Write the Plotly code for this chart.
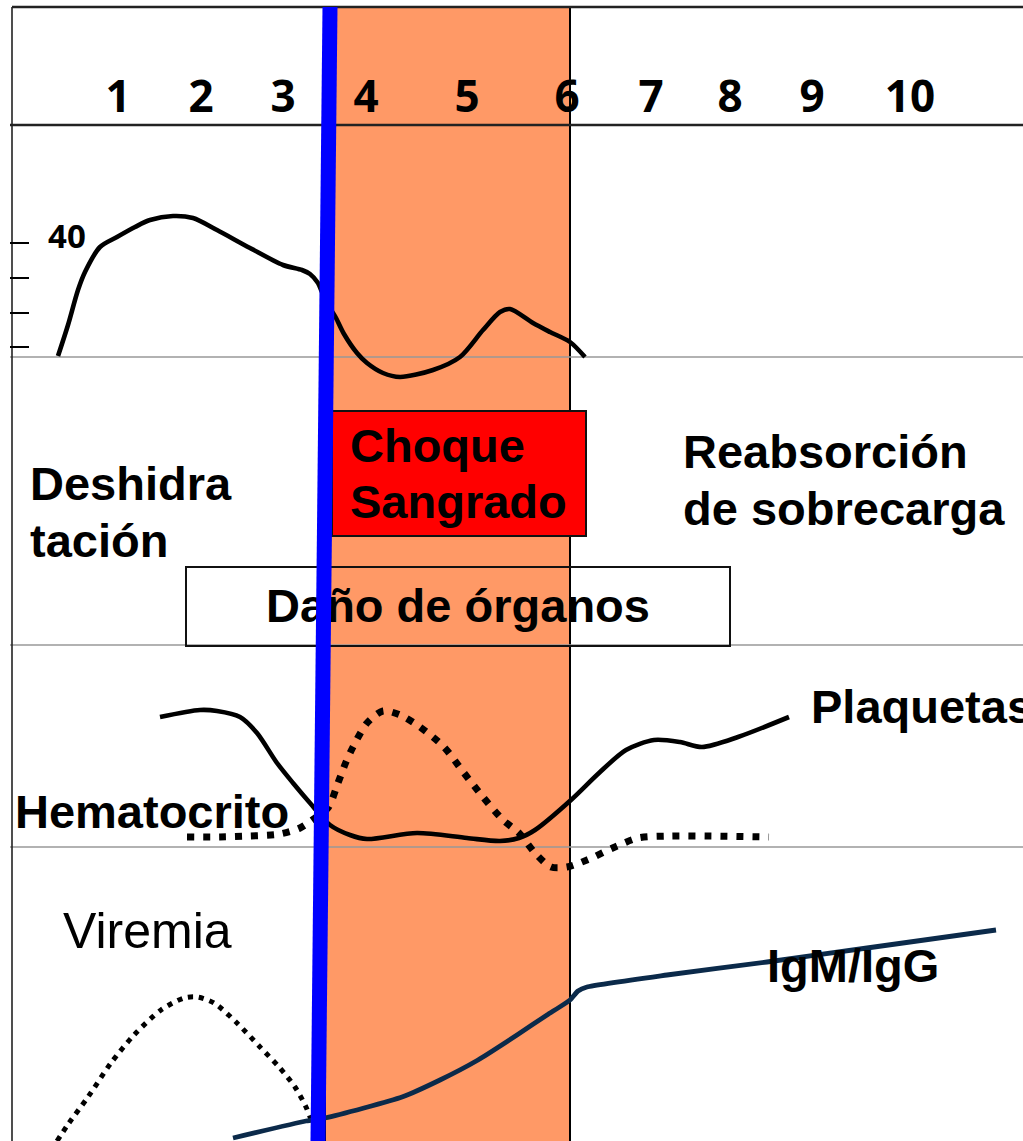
import plotly.graph_objects as go

# ---------------- data (schematic units: x along time axis, y downward) -------------
day_labels = ["1", "2", "3", "4", "5", "6", "7", "8", "9", "10"]
day_pos = [118, 201, 283, 366, 467, 567, 651, 730, 812, 910]

temp_x = [58, 68, 78, 85, 100, 117, 135, 150, 173, 193, 217, 250, 283, 302, 310, 318, 322,
          330, 336, 344, 357, 367, 383, 400, 433, 460, 483, 500, 510, 533, 550, 570, 585]
temp_y = [356, 325, 290, 272, 247, 237, 227, 220, 216, 218, 230, 248, 265, 270, 274, 283, 292,
          308, 318, 334, 353, 363, 373, 377, 370, 357, 330, 312, 309, 323, 332, 342, 357]

plaq_x = [160, 200, 217, 240, 257, 277, 293, 310, 330, 350, 367, 417, 467, 500, 519, 535,
          571, 599, 626, 654, 680, 702, 738, 789]
plaq_y = [717, 710, 711, 717, 733, 763, 783, 803, 825, 835, 839, 833, 838, 841, 838, 830,
          800, 773, 750, 740, 742, 747, 737, 717]

hto_x = [187, 220, 250, 280, 300, 315, 328, 338, 346, 353, 367, 383, 400, 420, 444, 464,
         483, 503, 519, 535, 551, 567, 587, 615, 638, 670, 769]
hto_y = [837, 837, 836, 834, 828, 818, 808, 783, 762, 747, 723, 711, 715, 727, 747, 773,
         797, 820, 833, 853, 867, 867, 860, 847, 838, 836, 837]

vir_x = [57, 69, 88, 111, 134, 161, 184, 197, 214, 237, 260, 279, 295, 306, 314, 322]
vir_y = [1141, 1123, 1097, 1063, 1035, 1010, 998, 997, 1003, 1023, 1047, 1067, 1087, 1107, 1127, 1145]

ig_x = [233, 306, 325, 364, 402, 440, 478, 517, 547, 570, 578, 587, 667, 767, 867, 996]
ig_y = [1138, 1121, 1118, 1108, 1097, 1080, 1060, 1035, 1015, 1000, 991, 987, 975, 962, 948, 930]

critical_x = [330, 318]
critical_y = [7, 1141]

W, H = 1023, 1141
BOLD_FONT = "Liberation Sans"

fig = go.Figure()

# ---------------- background shapes (below traces) ----------------
shapes = []
# orange critical phase band
shapes.append(dict(type="rect", xref="x", yref="y", x0=325, x1=570, y0=7, y1=1160,
                   fillcolor="#FF9966", line=dict(color="black", width=2), layer="below"))
# gray panel separators
for yy in [357, 645, 847]:
    shapes.append(dict(type="line", xref="x", yref="y", x0=10, x1=W + 5, y0=yy, y1=yy,
                       line=dict(color="#999999", width=1.6), layer="below"))
# frame lines
shapes.append(dict(type="line", xref="x", yref="y", x0=12, x1=W + 5, y0=7, y1=7,
                   line=dict(color="#222222", width=2.4), layer="below"))
shapes.append(dict(type="line", xref="x", yref="y", x0=10, x1=W + 5, y0=125, y1=125,
                   line=dict(color="#222222", width=2.4), layer="below"))
shapes.append(dict(type="line", xref="x", yref="y", x0=12, x1=12, y0=7, y1=H + 5,
                   line=dict(color="#222222", width=1.6), layer="below"))
# temperature axis ticks
for yy in [243, 278, 313, 347]:
    shapes.append(dict(type="line", xref="x", yref="y", x0=10, x1=29, y0=yy, y1=yy,
                       line=dict(color="black", width=2), layer="below"))
# red box (shock / bleeding)
shapes.append(dict(type="rect", xref="x", yref="y", x0=332, x1=586, y0=411, y1=536,
                   fillcolor="#FF0000", line=dict(color="#111111", width=2), layer="below"))
# organ damage box
shapes.append(dict(type="rect", xref="x", yref="y", x0=186, x1=730, y0=567, y1=646,
                   fillcolor="rgba(0,0,0,0)", line=dict(color="#111111", width=2), layer="below"))

# ---------------- curves ----------------
fig.add_trace(go.Scatter(x=temp_x, y=temp_y, mode="lines", line=dict(color="black", width=4.6, shape="spline", smoothing=0.8),
                         hoverinfo="skip", showlegend=False))
fig.add_trace(go.Scatter(x=plaq_x, y=plaq_y, mode="lines", line=dict(color="black", width=4.6, shape="spline", smoothing=0.8),
                         hoverinfo="skip", showlegend=False))
fig.add_trace(go.Scatter(x=hto_x, y=hto_y, mode="lines", line=dict(color="black", width=7, dash="7px,9px", shape="spline", smoothing=0.8),
                         hoverinfo="skip", showlegend=False))
fig.add_trace(go.Scatter(x=vir_x, y=vir_y, mode="lines", line=dict(color="black", width=5, dash="5px,6px", shape="spline", smoothing=0.8),
                         hoverinfo="skip", showlegend=False))
fig.add_trace(go.Scatter(x=ig_x, y=ig_y, mode="lines", line=dict(color="#0B2A4A", width=4.8, shape="spline", smoothing=0.5),
                         hoverinfo="skip", showlegend=False))

# ---------------- texts ----------------
def txt(xs, ys, texts, size, weight="bold", family=BOLD_FONT, pos="middle right"):
    fig.add_trace(go.Scatter(x=xs, y=ys, text=texts, mode="text", textposition=pos,
                             textfont=dict(family=family, size=size, color="black", weight=weight),
                             hoverinfo="skip", showlegend=False))

# day numbers
txt(day_pos, [101] * len(day_pos), day_labels, 44, family="Noto Sans", pos="middle center")
txt([48], [240], ["40"], 33, family="Noto Sans")
txt([30, 30], [488, 545], ["Deshidra", "tación"], 47)
txt([350, 350], [450, 506], ["Choque", "Sangrado"], 47)
txt([683, 683], [456, 513], ["Reabsorción", "de sobrecarga"], 47)
txt([458], [610], ["Daño de órganos"], 47, pos="middle center")
txt([15], [816], ["Hematocrito"], 47)
txt([811], [711], ["Plaquetas"], 47)
txt([767], [970], ["IgM/IgG"], 47)
txt([63], [935], ["Viremia"], 50, weight="normal")

# ---------------- critical line (blue) on top ----------------
fig.add_trace(go.Scatter(x=critical_x, y=critical_y, mode="lines", line=dict(color="#0000FF", width=15),
                         hoverinfo="skip", showlegend=False))

fig.update_layout(
    width=W, height=H, autosize=False,
    margin=dict(l=0, r=0, t=0, b=0, pad=0),
    paper_bgcolor="white", plot_bgcolor="white",
    shapes=shapes,
    xaxis=dict(range=[0, W], visible=False, fixedrange=True),
    yaxis=dict(range=[H, 0], visible=False, fixedrange=True),
    showlegend=False,
)

fig.write_html("out.html", config={"displayModeBar": False, "staticPlot": True},
               post_script="document.body.style.margin='0';document.body.style.overflow='hidden';")
